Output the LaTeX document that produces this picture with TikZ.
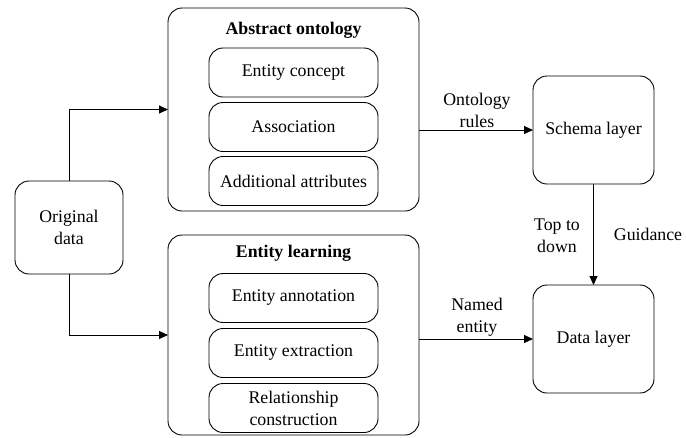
\documentclass[tikz,border=0pt]{standalone}
\usepackage{fontspec}
\setmainfont{LiberationSerif-Regular.ttf}[BoldFont=LiberationSerif-Bold.ttf]
\usetikzlibrary{arrows.meta}
\begin{document}
\begin{tikzpicture}[x=1pt,y=-1pt,
  font=\fontsize{17.8}{22}\selectfont,
  every node/.style={inner sep=0pt, outer sep=0pt},
  rbox/.style={draw, line width=0.9pt, rounded corners=14pt, align=center},
  lbl/.style={align=center},
  arr/.style={line width=0.9pt, -{Triangle[length=9pt,width=8pt]}}]
\useasboundingbox (0,0) rectangle (686,437);
% outer containers
\node[rbox, minimum width=251pt, minimum height=203pt] (A) at (293.5,109.5) {};
\node[font=\fontsize{17.8}{22}\selectfont\bfseries] (At) at (293.5,30) {Abstract ontology};
\node[rbox, minimum width=169pt, minimum height=49pt] (a1) at (293.5,72.5) {Entity concept};
\node[rbox, minimum width=169pt, minimum height=49pt] (a2) at (293.5,127) {Association};
\node[rbox, minimum width=169pt, minimum height=49pt] (a3) at (293.5,181) {Additional attributes};
\node[rbox, minimum width=251pt, minimum height=200pt] (B) at (293.5,335) {};
\node[font=\fontsize{17.8}{22}\selectfont\bfseries] (Bt) at (293.5,253) {Entity learning};
\node[rbox, minimum width=169pt, minimum height=49pt] (b1) at (293.5,298) {Entity annotation};
\node[rbox, minimum width=169pt, minimum height=49pt] (b2) at (293.5,353) {Entity extraction};
\node[rbox, minimum width=169pt, minimum height=49pt] (b3) at (293.5,408) {Relationship\\construction};
% left and right boxes
\node[rbox, minimum width=108pt, minimum height=93pt] (orig) at (69,227.5) {Original\\data};
\node[rbox, minimum width=121pt, minimum height=108pt] (schema) at (593.5,130) {Schema layer};
\node[rbox, minimum width=121pt, minimum height=108pt] (data) at (593.5,339) {Data layer};
% connectors
\draw[arr] (orig.north) |- (A.west);
\draw[arr] (orig.south) |- (B.west);
\draw[arr] (A.east |- schema.west) -- (schema.west);
\draw[arr] (B.east |- data.west) -- (data.west);
\draw[arr] (schema.south) -- (data.north);
% labels
\node[lbl] (l1) at (477,110) {Ontology\\rules};
\node[lbl] (l2) at (477,317) {Named\\entity};
\node[lbl] (l3) at (557,236) {Top to\\down};
\node[lbl] (l4) at (648,234) {Guidance};
\end{tikzpicture}
\end{document}
